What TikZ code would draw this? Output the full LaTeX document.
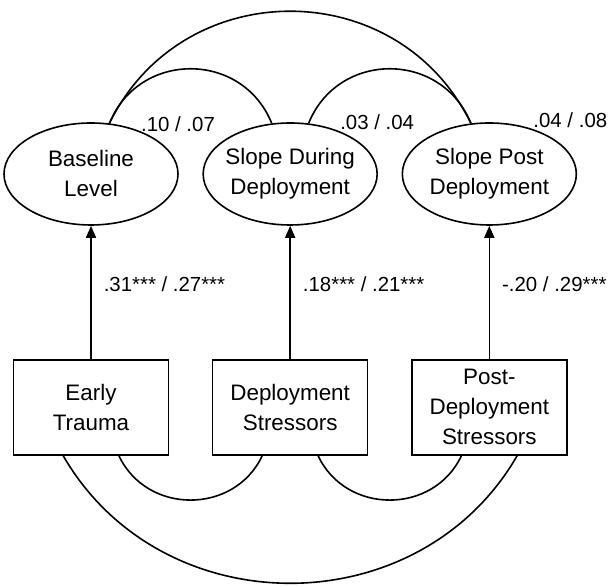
\documentclass[tikz,border=0pt]{standalone}
\usepackage{fontspec}
\setmainfont{Liberation Sans}
\usetikzlibrary{arrows.meta, positioning, shapes.geometric}

\begin{document}
\begin{tikzpicture}[node distance=3.5cm, on grid, >={Triangle[length=6pt,width=5pt]},
      line width=0.8pt,
      latent/.style={draw, ellipse, minimum width=87pt, minimum height=51pt,
        inner xsep=-3pt, inner ysep=0pt, align=center, font=\fontsize{11.2}{15}\selectfont},
      observed/.style={draw, rectangle, minimum width=77.5pt, minimum height=47.5pt,
        inner sep=2pt, align=center, font=\fontsize{11.2}{15}\selectfont},
      coef/.style={font=\fontsize{10.2}{12}\selectfont, inner sep=0pt}]
  \useasboundingbox (-45.5pt,87pt) rectangle (260pt,-206.5pt);
  \node[latent]   (base) {Baseline\\Level};
  \node[latent]   (during) [right=of base] {Slope During\\Deployment};
  \node[latent]   (post) [right=of during] {Slope Post\\Deployment};
  \node[observed] (trauma) [below=4.1cm of base] {Early\\Trauma};
  \node[observed] (depstress) [right=of trauma] {Deployment\\Stressors};
  \node[observed] (poststress) [right=of depstress] {Post-\\Deployment\\Stressors};
  \node[coef] (r_base) [above right=25pt and 43.5pt of base] {.10 / .07};
  \node[coef] (r_during) [above right=26pt and 43.5pt of during] {.03 / .04};
  \node[coef] (r_post) [above right=27pt and 40.5pt of post] {.04 / .08};
  \path[->]
  (trauma) edge node [coef, right=6pt, pos=0.56] {.31*** / .27***} (base)
  (depstress) edge node [coef, right=6pt, pos=0.56] {.18*** / .21***} (during)
  (poststress) edge node [coef, right=6pt, pos=0.56] {-.20 / .29***} (post);
  % covariances
  \path
  (base.70) edge [out=64, in=116, looseness=1.18] (post.110)
  (base.70) edge [out=68, in=112, looseness=1.24] (during.110)
  (during.70) edge [out=68, in=112, looseness=1.24] (post.110)
  (trauma.-120) edge [out=-60, in=-120, looseness=1.11] (poststress.-60)
  (trauma.-60) edge [out=-65, in=-115, looseness=1.17] (depstress.-120)
  (depstress.-60) edge [out=-65, in=-115, looseness=1.17] (poststress.-120);
\end{tikzpicture}
\end{document}
